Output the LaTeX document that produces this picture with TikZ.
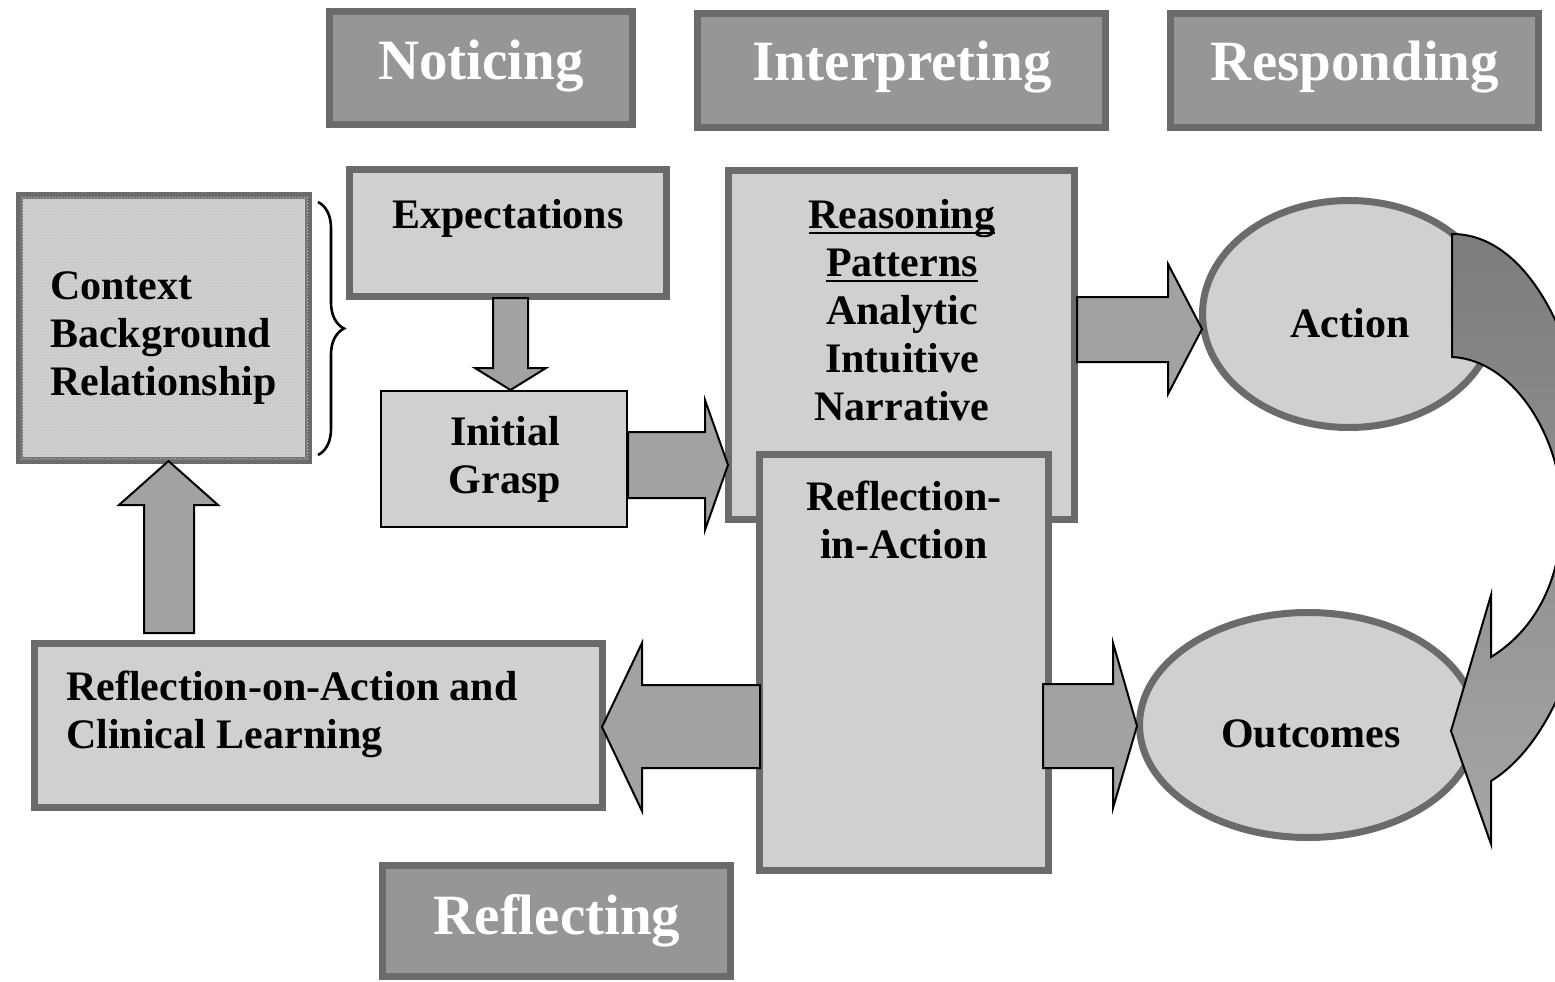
\documentclass[tikz,border=0pt]{standalone}
\usepackage{fontspec}
\setmainfont{Liberation Serif}
\usetikzlibrary{decorations.pathreplacing,patterns,shapes.geometric}
\definecolor{hdrfill}{HTML}{969696}
\definecolor{darkedge}{HTML}{6B6B6B}
\definecolor{lightfill}{HTML}{D0D0D0}
\definecolor{ctxfill}{HTML}{C9C9C9}
\definecolor{ctxdots}{HTML}{E2E2E2}
\definecolor{arrfill}{HTML}{A2A2A2}
\definecolor{curvetop}{HTML}{7C7C7C}
\definecolor{curvebot}{HTML}{A6A6A6}
\newcommand\myul[1]{\setbox0\hbox{#1}\rlap{\rule[-6pt]{\wd0}{2.4pt}}\box0}
\begin{document}
\begin{tikzpicture}[x=1pt,y=-1pt,
  hdr/.style={rectangle, draw=darkedge, line width=7pt, fill=hdrfill, inner sep=0pt},
  hdrtext/.style={text=white, font=\bfseries\fontsize{57}{60}\selectfont, inner sep=0pt},
  box/.style={rectangle, draw=darkedge, line width=7pt, fill=lightfill, inner sep=0pt},
  thinbox/.style={rectangle, draw=black, line width=2pt, fill=lightfill, inner sep=0pt},
  oval/.style={ellipse, draw=darkedge, line width=7pt, fill=lightfill, inner sep=0pt},
  txt/.style={font=\bfseries\fontsize{42}{48}\selectfont, inner sep=0pt},
  blockarr/.style={draw=black, line width=2pt, fill=arrfill, line join=miter},
]
\useasboundingbox (0,0) rectangle (1555,982);

% headers
\node[hdr, minimum width=303pt, minimum height=113pt] (noticing) at (481,68) {};
\node[hdr, minimum width=408pt, minimum height=114pt] (interpreting) at (901.5,70.5) {};
\node[hdr, minimum width=368pt, minimum height=114pt] (responding) at (1354.5,70.5) {};
\node[hdr, minimum width=348pt, minimum height=111pt] (reflecting) at (556.5,921) {};

% context box
\node[rectangle, draw=darkedge, line width=7pt, fill=ctxfill, inner sep=0pt,
      minimum width=289pt, minimum height=265pt] (context) at (164,328) {};
\fill[pattern=crosshatch dots, pattern color=ctxdots] (20,196) rectangle (308,460);
\draw[decorate, decoration={brace, amplitude=26pt}, line width=2.6pt] (318,202) -- (318,455);

% expectations
\node[box, minimum width=317pt, minimum height=127pt] (expect) at (508,233) {};
% reasoning patterns
\node[box, minimum width=346pt, minimum height=349pt] (reason) at (901.5,345) {};
% reflection in action
\node[box, minimum width=289pt, minimum height=416pt] (ria) at (904,662.5) {};
% initial grasp
\node[thinbox, minimum width=246pt, minimum height=136pt] (grasp) at (504,459) {};
% reflection on action
\node[box, minimum width=568pt, minimum height=164pt] (roa) at (318.5,725.5) {};

% ellipses
\node[oval, minimum width=293pt, minimum height=227pt] (action) at (1349,314) {};
\node[oval, minimum width=337pt, minimum height=225pt] (outcomes) at (1308,725) {};

% block arrows
\draw[blockarr] (493,298) -- (528,298) -- (528,368) -- (546,368) -- (510.5,390) -- (475,368) -- (493,368) -- cycle;
\draw[blockarr] (628,432) -- (705,432) -- (705,400) -- (728,465) -- (705,530) -- (705,498) -- (628,498) -- cycle;
\draw[blockarr] (1077,297) -- (1168,297) -- (1168,264) -- (1202,329) -- (1168,394) -- (1168,362) -- (1077,362) -- cycle;
\draw[blockarr] (1043,684) -- (1113,684) -- (1113,643) -- (1137,726) -- (1113,808) -- (1113,768) -- (1043,768) -- cycle;
\draw[blockarr] (760,685) -- (642,685) -- (642,643) -- (602,727) -- (642,811) -- (642,768) -- (760,768) -- cycle;
\draw[blockarr] (144,633) -- (194,633) -- (194,505) -- (218,505) -- (168.5,461) -- (119,505) -- (144,505) -- cycle;

% curved arrow from Action to Outcomes
\begin{scope}
\clip (0,0) rectangle (1555,982);
\draw[line width=2pt, line join=miter, top color=curvetop, bottom color=curvebot]
  (1452,357) -- (1452,234)
  .. controls (1545,234) and (1595,390) .. (1595,507)
  .. controls (1595,640) and (1550,745) .. (1491,781)
  -- (1491,844) -- (1451,731) -- (1491,595) -- (1491,657)
  .. controls (1535,630) and (1562,580) .. (1562,512)
  .. controls (1562,440) and (1515,360) .. (1452,357) -- cycle;
\end{scope}

% texts
\node[hdrtext, anchor=base] (t-noticing) at (481,80) {Noticing};
\node[hdrtext, anchor=base] (t-interp) at (902,81) {Interpreting};
\node[hdrtext, anchor=base] (t-resp) at (1355,81) {Responding};
\node[hdrtext, anchor=base] (t-refl) at (557,934) {Reflecting};

\node[txt, anchor=north west, align=left] (t-context) at (50,271) {Context\\Background\\Relationship};
\node[txt, anchor=base] (t-expect) at (508,228) {Expectations};
\node[txt, anchor=north, align=center] (t-grasp) at (505,416) {Initial\\Grasp};
\node[txt, anchor=north, align=center] (t-reason) at (902,199) {\myul{Reasoning}\\\myul{Patterns}\\Analytic\\Intuitive\\Narrative};
\node[txt, anchor=north, align=center] (t-ria) at (904,481) {Reflection-\\in-Action};
\node[txt, anchor=base] (t-action) at (1350,337) {Action};
\node[txt, anchor=base] (t-outcomes) at (1311,747) {Outcomes};
\node[txt, anchor=north west, align=left] (t-roa) at (66,671) {Reflection-on-Action and\\Clinical Learning};
\end{tikzpicture}
\end{document}
